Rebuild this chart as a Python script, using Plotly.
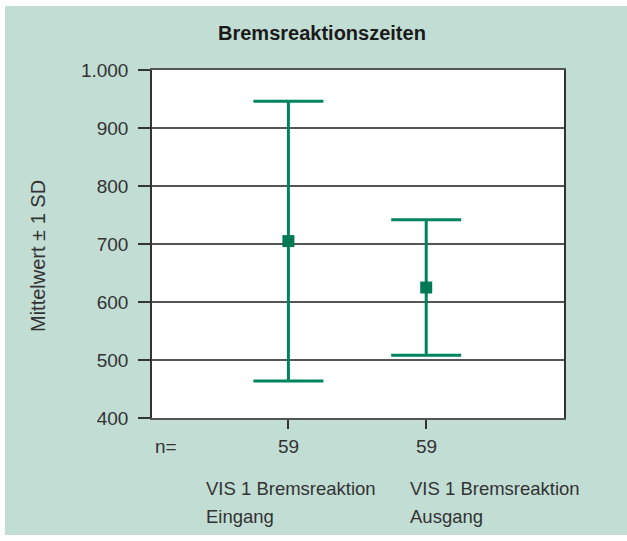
import plotly.graph_objects as go

cat_line1 = ["VIS 1 Bremsreaktion", "VIS 1 Bremsreaktion"]
cat_line2 = ["Eingang", "Ausgang"]
means = [705, 625]
sds = [241, 117]
n_values = ["59", "59"]
y_ticks = [400, 500, 600, 700, 800, 900, 1000]
y_ticklabels = ["400", "500", "600", "700", "800", "900", "1.000"]
x_pos = [1, 2]

W, H = 627, 541
L, R, T, B = 152, 63, 70, 123
pw = W - L - R
ph = H - T - B

def px_x(p):
    return (p - L) / pw

def px_y(p):
    return (H - B - p) / ph

FONT = "Liberation Sans, Arial, sans-serif"
GREEN = "#00845f"
TXT = "#333333"
TEAL = "#c2ddd4"

fig = go.Figure()
fig.add_trace(go.Scatter(
    x=x_pos, y=means, mode="markers",
    marker=dict(symbol="square", size=12, color="#007a55"),
    error_y=dict(type="data", array=sds, symmetric=True, color=GREEN,
                 thickness=3, width=35),
    showlegend=False, hoverinfo="skip",
))

annotations = []
annotations.append(dict(text="<b>Bremsreaktionszeiten</b>", xref="paper", yref="paper",
                        x=px_x(322), y=px_y(33), xanchor="center", yanchor="middle",
                        showarrow=False, font=dict(family=FONT, size=20, color="#1a1a1a")))
annotations.append(dict(text="n=", xref="paper", yref="paper", x=px_x(153), y=px_y(446),
                        xanchor="left", yanchor="middle", showarrow=False,
                        font=dict(family=FONT, size=19, color=TXT)))
for xp, nv in zip(x_pos, n_values):
    annotations.append(dict(text=nv, xref="x", yref="paper", x=xp, y=px_y(446),
                            xanchor="center", yanchor="middle", showarrow=False,
                            font=dict(family=FONT, size=19, color=TXT)))
for xl, l1, l2 in zip([204, 408], cat_line1, cat_line2):
    annotations.append(dict(text=l1, xref="paper", yref="paper", x=px_x(xl), y=px_y(488),
                            xanchor="left", yanchor="middle", showarrow=False,
                            font=dict(family=FONT, size=18.5, color=TXT)))
    annotations.append(dict(text=l2, xref="paper", yref="paper", x=px_x(xl), y=px_y(516),
                            xanchor="left", yanchor="middle", showarrow=False,
                            font=dict(family=FONT, size=18.5, color=TXT)))
annotations.append(dict(text="Mittelwert ± 1 SD", xref="paper", yref="paper",
                        x=px_x(38), y=px_y(256), xanchor="center", yanchor="middle",
                        textangle=-90, showarrow=False,
                        font=dict(family=FONT, size=20, color=TXT)))

white_strips = [
    (0, 5, 0, H), (0, W, 0, 6), (0, W, 535, H),
]
shapes = [dict(type="rect", xref="paper", yref="paper", layer="below",
               x0=px_x(a), x1=px_x(b), y0=px_y(d), y1=px_y(c),
               fillcolor="white", line=dict(width=0)) for a, b, c, d in white_strips]

fig.update_layout(
    width=W, height=H,
    margin=dict(l=L, r=R, t=T, b=B),
    paper_bgcolor=TEAL, plot_bgcolor="white",
    shapes=shapes,
    annotations=annotations,
    xaxis=dict(range=[0.01, 3], tickvals=x_pos, showticklabels=False,
               ticks="outside", ticklen=9, tickwidth=1.5, tickcolor="#333",
               showgrid=False, zeroline=False, showline=True, linecolor="#555",
               linewidth=1.5, mirror=True, fixedrange=True),
    yaxis=dict(range=[400, 1000], tickvals=y_ticks, ticktext=y_ticklabels,
               ticks="outside", ticklen=12, tickwidth=1.5, tickcolor="#333",
               ticklabelstandoff=6,
               tickfont=dict(family=FONT, size=19, color=TXT),
               showgrid=True, gridcolor="#555", gridwidth=1.5,
               zeroline=False, showline=True, linecolor="#333", linewidth=1.5,
               mirror=True, fixedrange=True),
    font=dict(family=FONT),
)

fig.write_html("out.html", config={"displayModeBar": False},
               post_script="document.body.style.margin='0px';")
